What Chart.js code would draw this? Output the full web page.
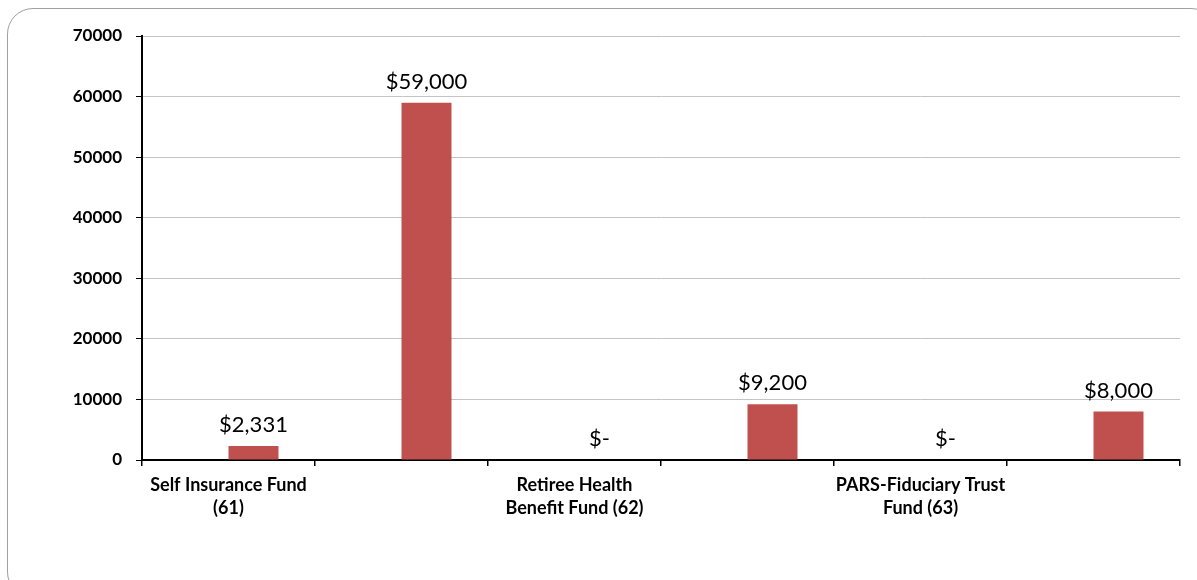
<!DOCTYPE html>
<html>
<head>
<meta charset="utf-8">
<script src="https://cdn.jsdelivr.net/npm/chart.js@4.4.1/dist/chart.umd.min.js"></script>
<style>
  html, body { margin: 0; padding: 0; background: #fff; overflow: hidden; }
  #wrap { position: relative; width: 1197px; height: 580px; overflow: hidden; }
  #frame { position: absolute; left: 7px; top: 8px; width: 1210px; height: 590px;
           border: 1.5px solid #a0a0a0; border-radius: 26px; box-sizing: border-box; }
  #c { position: absolute; left: 0; top: 0; }
</style>
</head>
<body>
<div id="wrap">
  <div id="frame"></div>
  <canvas id="c" width="1197" height="580"></canvas>
</div>
<script>
const categories = [
  ["Self Insurance Fund", "(61)"],
  "",
  ["Retiree Health", "Benefit Fund (62)"],
  "",
  ["PARS-Fiduciary Trust", "Fund (63)"],
  ""
];
// empty placeholder series (occupies the left slot of each category, as in the original)
const placeholderValues = [null, null, null, null, null, null];
const values = [2331, 59000, 0, 9200, 0, 8000];
const valueLabels = ["$2,331", "$59,000", "$-", "$9,200", "$-", "$8,000"];
const yTicks = [0, 10000, 20000, 30000, 40000, 50000, 60000, 70000];

const FONT = "Lato, 'Open Sans', sans-serif";

const labelPlugin = {
  id: 'valueLabels',
  afterDatasetsDraw(chart) {
    const ctx = chart.ctx;
    const meta = chart.getDatasetMeta(1);
    ctx.save();
    ctx.font = "22px " + FONT;
    ctx.fillStyle = "#000";
    ctx.textAlign = "center";
    ctx.textBaseline = "alphabetic";
    meta.data.forEach((bar, i) => {
      ctx.fillText(valueLabels[i], bar.x, bar.y - 14);
    });
    ctx.restore();
  }
};

new Chart(document.getElementById('c'), {
  type: 'bar',
  data: {
    labels: categories,
    datasets: [{
      data: placeholderValues,
      backgroundColor: 'rgba(0,0,0,0)',
      borderWidth: 0,
      barPercentage: 1.0,
      categoryPercentage: 0.578
    }, {
      data: values,
      backgroundColor: '#C0504D',
      borderWidth: 0,
      barPercentage: 1.0,
      categoryPercentage: 0.578
    }]
  },
  options: {
    responsive: false,
    animation: false,
    layout: { padding: { top: 36, right: 17, left: 0, bottom: 0 } },
    plugins: { legend: { display: false }, tooltip: { enabled: false } },
    scales: {
      y: {
        min: 0, max: 70000,
        afterFit(scale) { scale.width = 142; },
        afterBuildTicks(scale) { scale.ticks = yTicks.map(v => ({ value: v })); },
        ticks: {
          font: { family: FONT, size: 17, weight: 'bold' },
          color: '#000',
          padding: 14,
          callback: v => String(v)
        },
        grid: { color: '#c4c4c4', lineWidth: 1, tickLength: 6, tickColor: '#000', drawTicks: true },
        border: { display: true, color: '#000', width: 2 }
      },
      x: {
        afterFit(scale) { scale.height = 120; },
        ticks: {
          font: { family: FONT, size: 18, weight: 'bold', lineHeight: 1.28 },
          color: '#000',
          padding: 8,
          autoSkip: false,
          maxRotation: 0,
          minRotation: 0
        },
        grid: { offset: true, drawOnChartArea: false, drawTicks: true, tickLength: 6, tickColor: '#000', lineWidth: 1.5 },
        border: { display: true, color: '#000', width: 2 }
      }
    }
  },
  plugins: [labelPlugin]
});
</script>
</body>
</html>
